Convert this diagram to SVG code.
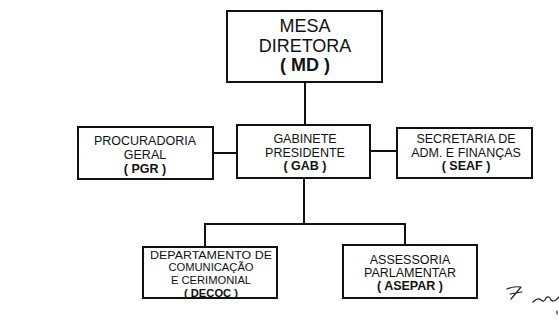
<svg xmlns="http://www.w3.org/2000/svg" width="559" height="331" viewBox="0 0 559 331">
<style>
.box{fill:#fff;stroke:#111;stroke-width:2}
.con{fill:none;stroke:#111;stroke-width:2}
text{font-family:"Liberation Sans",Arial,sans-serif;fill:#111;text-anchor:middle}
.s{font-size:12.5px}
.d{font-size:11.2px}
.b{font-weight:bold}
.l{font-size:18px}
.sig{fill:none;stroke:#222;stroke-width:1.2;stroke-linecap:round;stroke-linejoin:round}
</style>
<rect width="559" height="331" fill="#fff"/>
<g id="connectors">
<line class="con" x1="305" y1="82" x2="305" y2="125"/>
<line class="con" x1="213" y1="153" x2="237" y2="153"/>
<line class="con" x1="370" y1="151" x2="397" y2="151"/>
<line class="con" x1="304" y1="178" x2="304" y2="224"/>
<polyline class="con" points="205,247 205,224 405,224 405,246"/>
</g>
<g id="md">
<rect class="box" x="227" y="11" width="155" height="71"/>
<text class="l" x="305" y="32">MESA</text>
<text class="l" x="305" y="52">DIRETORA</text>
<text class="l b" x="305" y="71">( MD )</text>
</g>
<g id="pgr">
<rect class="box" x="78" y="127" width="135" height="52"/>
<text class="s" x="145" y="145">PROCURADORIA</text>
<text class="s" x="145" y="159">GERAL</text>
<text class="s b" x="145" y="173">( PGR )</text>
</g>
<g id="gab">
<rect class="box" x="237" y="125" width="133" height="53"/>
<text class="s" x="305" y="143">GABINETE</text>
<text class="s" x="305" y="157">PRESIDENTE</text>
<text class="s b" x="305" y="170">( GAB )</text>
</g>
<g id="seaf">
<rect class="box" x="397" y="128" width="135" height="50"/>
<text class="s" x="466" y="143">SECRETARIA DE</text>
<text class="s" x="466" y="157">ADM. E FINANÇAS</text>
<text class="s b" x="466" y="170">( SEAF )</text>
</g>
<g id="decoc">
<rect class="box" x="143" y="247" width="134" height="51"/>
<text class="d" x="211" y="258.5" textLength="122" lengthAdjust="spacingAndGlyphs">DEPARTAMENTO DE</text>
<text class="d" x="211" y="271.3">COMUNICAÇÃO</text>
<text class="d" x="211" y="284.1">E CERIMONIAL</text>
<text class="d b" x="211" y="296.9">( DECOC )</text>
</g>
<g id="asepar">
<rect class="box" x="343" y="245" width="134" height="53"/>
<text class="s" x="410" y="264">ASSESSORIA</text>
<text class="s" x="410" y="277">PARLAMENTAR</text>
<text class="s b" x="410" y="290">( ASEPAR )</text>
</g>
<g id="signature">
<path class="sig" d="M507,289 Q513,286 521,287 L511,299 M510,294 L522,292"/>
<path class="sig" d="M533,302 Q538,297 541,300 Q544,303 546,298 Q549,295 551,300 Q554,303 559,297"/>
<path class="sig" d="M557,311 L557,314"/>
</g>
</svg>
